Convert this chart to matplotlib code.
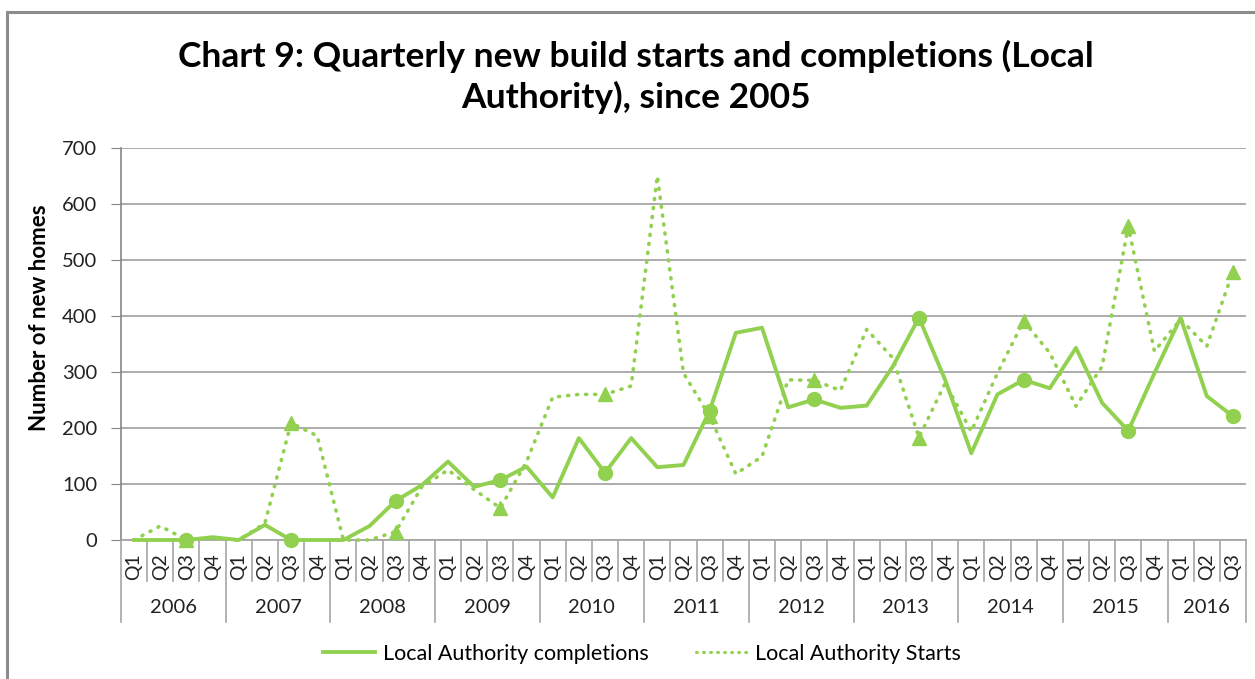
import matplotlib
matplotlib.use('Agg')
import matplotlib.pyplot as plt
from matplotlib.patches import Rectangle
from matplotlib.lines import Line2D

plt.rcParams['font.family'] = ['Lato', 'DejaVu Sans']

# dados
anos = ['2006', '2007', '2008', '2009', '2010', '2011', '2012', '2013', '2014', '2015', '2016']
trimestres = ['Q1', 'Q2', 'Q3', 'Q4']

completions = [0, 0, 0, 5, 0, 27, 0, 0, 0, 25, 70, 98, 140, 95, 107, 131,
               76, 182, 120, 182, 130, 134, 231, 370, 379, 237, 251, 236, 240, 310,
               397, 286, 155, 260, 286, 271, 343, 245, 195, 298, 397, 257, 221]
starts = [0, 25, 0, 3, 0, 30, 209, 186, 0, 0, 15, 95, 125, 90, 57, 140,
          255, 260, 260, 275, 650, 298, 221, 118, 149, 286, 285, 267, 376, 325,
          183, 280, 194, 298, 391, 334, 239, 310, 560, 337, 394, 346, 479]

verde = '#92D050'
cinza = '#A6A6A6'
pontilhado = (0, (0.3, 2.2))

n = len(completions)
xs = list(range(n))
rot_q = [trimestres[i % 4] for i in xs]

fig = plt.figure(figsize=(12.55, 6.79), dpi=100)
W, H = 1255, 679
ax = fig.add_axes([121 / W, 1 - 540 / H, (1246 - 121) / W, (540 - 148) / H])

# moldura do grafico
fig.patches.append(Rectangle((7 / W, -0.1), 1.2, 1 - 12 / H + 0.1, transform=fig.transFigure,
                             fill=False, edgecolor='#8C8C8C', linewidth=2.2))

ax.plot(xs, completions, color=verde, linewidth=2.8, marker='o', markersize=10,
        markevery=slice(2, None, 4), zorder=3, clip_on=False)
ax.plot(xs, starts, color=verde, linewidth=2.6, linestyle=pontilhado, dash_capstyle='round',
        marker='^', markersize=10, markevery=slice(2, None, 4), zorder=3, clip_on=False)

ax.set_xlim(-0.5, n - 0.5)
ax.set_ylim(0, 700)
ax.set_yticks(range(0, 701, 100))
ax.yaxis.grid(True, color=cinza, linewidth=1.3)
ax.set_axisbelow(True)
for s in ['top', 'right']:
    ax.spines[s].set_visible(False)
ax.spines['left'].set_color('#868686')
ax.spines['bottom'].set_color(cinza)
ax.spines['left'].set_linewidth(1.2)
ax.spines['bottom'].set_linewidth(1.3)
ax.tick_params(axis='y', length=7, color='#868686', labelsize=14.5, pad=10, labelcolor='#222222')
ax.set_xticks([])

# eixo x em dois niveis (trimestre / ano)
tr = ax.get_xaxis_transform()
for i in range(n + 1):
    b = i - 0.5
    ano_lim = (i % 4 == 0) or (i == n)
    ax.plot([b, b], [0, -0.209 if ano_lim else -0.1046], transform=tr, color=cinza,
            linewidth=1.2, clip_on=False)
for i in xs:
    ax.text(i, -0.069, rot_q[i], transform=tr, rotation=90, ha='center', va='center',
            fontsize=14, color='#222222')
for k, a in enumerate(anos):
    ini = 4 * k
    fim = min(4 * k + 3, n - 1)
    ax.text((ini + fim) / 2, -0.173, a, transform=tr, ha='center', va='center',
            fontsize=14.5, color='#222222')

fig.text(636 / W, 1 - 77 / H, 'Chart 9: Quarterly new build starts and completions (Local\nAuthority), since 2005',
         ha='center', va='center', fontsize=25.5, fontweight='bold', linespacing=1.3)
fig.text(40 / W, 1 - 318 / H, 'Number of new homes', rotation=90, ha='center', va='center',
         fontsize=16, fontweight='bold')

# legenda sem marcadores
h1 = Line2D([], [], color=verde, linewidth=2.8)
h2 = Line2D([], [], color=verde, linewidth=2.2, linestyle=(0, (0.3, 2.0)), dash_capstyle='round')
fig.legend([h1, h2], ['Local Authority completions', 'Local Authority Starts'],
           loc='center', bbox_to_anchor=(642 / W, 1 - 654 / H), ncol=2, frameon=False,
           fontsize=15.5, handlelength=2.4, handletextpad=0.35, columnspacing=2.2)

fig.savefig('out.png', dpi=100)
